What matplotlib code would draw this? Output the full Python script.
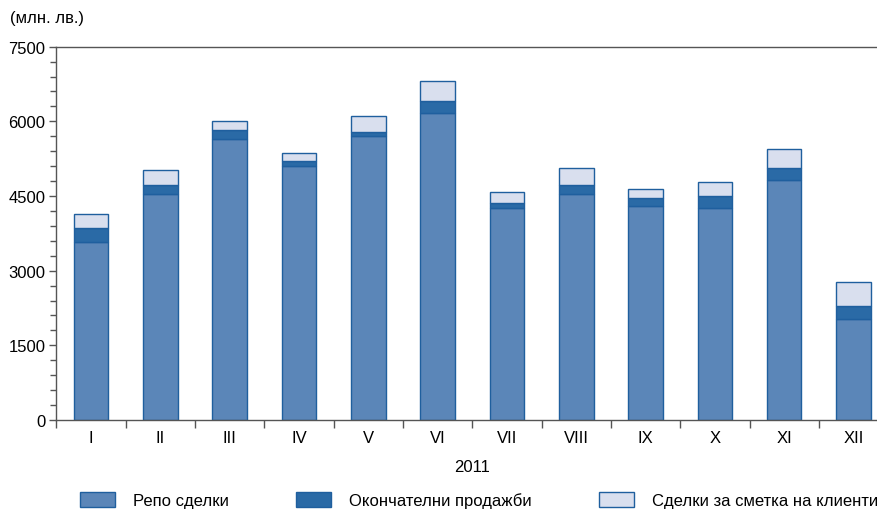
import matplotlib
matplotlib.use("Agg")
from matplotlib import pyplot as plt
from matplotlib.ticker import MultipleLocator, FixedLocator, NullFormatter
import numpy as np

plt.rcParams['font.family'] = ['Liberation Sans Narrow', 'Liberation Sans', 'DejaVu Sans']

# data (млн. лв.), 2011
months = ["I", "II", "III", "IV", "V", "VI", "VII", "VIII", "IX", "X", "XI", "XII"]
repo = [3570, 4534, 5652, 5096, 5699, 6161, 4259, 4534, 4293, 4265, 4822, 2023]
final_sales = [281, 187, 168, 101, 94, 241, 101, 194, 160, 242, 241, 274]
clients = [282, 295, 181, 167, 321, 402, 227, 341, 188, 268, 375, 482]
series_names = ["Репо сделки", "Окончателни продажби", "Сделки за сметка на клиенти"]

c_repo = "#5b86b8"
c_final = "#2a6aa6"
c_client = "#d9dfee"
c_edge = "#1f5f9e"
fs = 12

fig = plt.figure(figsize=(8.77, 5.10), dpi=100)
ax = fig.add_axes([0.0643, 0.1745, 0.9484, 0.732])

x = np.arange(len(months))
w = 0.5
repo = np.array(repo)
final_sales = np.array(final_sales)
clients = np.array(clients)

b1 = ax.bar(x, repo, w, color=c_repo, edgecolor=c_edge, linewidth=1)
b2 = ax.bar(x, final_sales, w, bottom=repo, color=c_final, edgecolor=c_edge, linewidth=1)
b3 = ax.bar(x, clients, w, bottom=repo + final_sales, color=c_client, edgecolor=c_edge, linewidth=1)

ax.set_xlim(-0.5, 11.5)
ax.set_ylim(0, 7500)
ax.yaxis.set_major_locator(MultipleLocator(1500))
ax.yaxis.set_minor_locator(MultipleLocator(300))
ax.tick_params(axis='y', which='major', length=5, width=1, color="#555555",
               labelsize=fs, pad=3)
ax.tick_params(axis='y', which='minor', length=4, width=1, color="#555555")

# x ticks between categories, labels centred under bars
ax.xaxis.set_major_locator(FixedLocator(np.arange(-0.5, 12, 1)))
ax.xaxis.set_major_formatter(NullFormatter())
ax.set_xticks(x, months, minor=True)
ax.tick_params(axis='x', which='major', length=6, width=1, color="#555555")
ax.tick_params(axis='x', which='minor', length=0, labelsize=fs, pad=7)
ax.set_xlabel("2011", fontsize=fs, labelpad=10)

for s in ["left", "bottom", "top"]:
    ax.spines[s].set_color("#555555")
    ax.spines[s].set_linewidth(1)
ax.spines["right"].set_visible(False)

fig.text(10 / 877, 1 - 19 / 510, "(млн. лв.)", fontsize=fs, va="center", ha="left")

fig.legend([b1, b2, b3], series_names, loc="center left",
           bbox_to_anchor=(80 / 877, 0.018), ncol=3, frameon=False,
           fontsize=fs, handlelength=2.1, handleheight=1.0,
           handletextpad=1.1, columnspacing=4.0, borderpad=0, borderaxespad=0)

fig.savefig("out.png", dpi=100)
